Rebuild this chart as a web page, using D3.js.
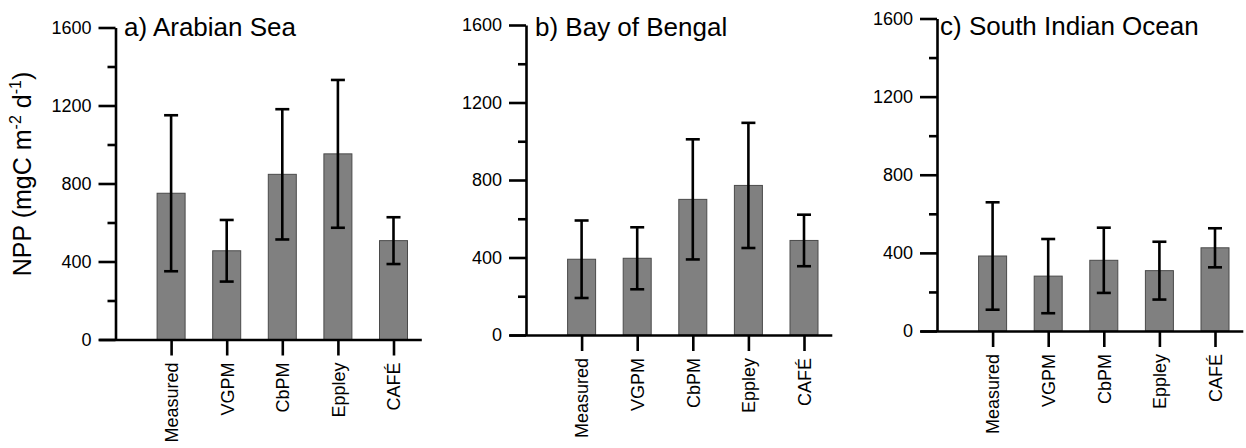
<!DOCTYPE html>
<html>
<head>
<meta charset="utf-8">
<script src="https://cdn.jsdelivr.net/npm/d3@7"></script>
<style>
  html, body { margin: 0; padding: 0; background: #fff; }
  svg { display: block; font-family: "Liberation Sans", Arial, sans-serif; }
</style>
</head>
<body>
<svg id="chart" width="1246" height="448"></svg>
<script>
const categories = ["Measured", "VGPM", "CbPM", "Eppley", "CAFÉ"];
const yTickLabels = [0, 400, 800, 1200, 1600];
const yMinorTicks = [200, 600, 1000, 1400];

const arabianMean = [750, 455, 847, 952, 507];
const arabianSD   = [400, 158, 334, 379, 120];
const bengalMean  = [391, 396, 700, 772, 488];
const bengalSD    = [200, 160, 310, 323, 133];
const southMean   = [384, 281, 362, 309, 426];
const southSD     = [275, 190, 167, 148, 100];

const panelTitles = ["a) Arabian Sea", "b) Bay of Bengal", "c) South Indian Ocean"];

const panels = [
  { title: panelTitles[0], mean: arabianMean, sd: arabianSD, ax: 115.5, y0: 339.5, y1: 27.5, tdx: 8.5, tby: 36 },
  { title: panelTitles[1], mean: bengalMean,  sd: bengalSD,  ax: 526,   y0: 335,   y1: 25,   tdx: 9,   tby: 36 },
  { title: panelTitles[2], mean: southMean,   sd: southSD,   ax: 937,   y0: 331,   y1: 18.5, tdx: 3,   tby: 35 }
];

const svg = d3.select("#chart");
const step = 55.6;
const barW = 28;
const capW = 14;
const lw = 2.6;
const FONT = '"Liberation Sans", Arial, sans-serif';

panels.forEach(p => {
  const g = svg.append("g");
  const y = d3.scaleLinear().domain([0, 1600]).range([p.y0, p.y1]);
  const x = d3.scaleLinear().domain([0, 5.5]).range([p.ax, p.ax + 5.5 * step]);
  const xa = d3.scaleLinear().domain([-0.3, 5.5]).range([x(-0.3), x(5.5)]);

  g.selectAll("rect.bar").data(p.mean).join("rect")
    .attr("class", "bar")
    .attr("x", (d, i) => x(i + 1) - barW / 2)
    .attr("width", barW)
    .attr("y", d => y(d))
    .attr("height", d => y(0) - y(d))
    .attr("fill", "#808080")
    .attr("stroke", "#4a4a4a")
    .attr("stroke-width", 1);

  const eb = g.selectAll("g.err").data(p.mean).join("g").attr("class", "err")
    .attr("stroke", "#000").attr("stroke-width", lw).attr("fill", "none");
  eb.append("line")
    .attr("x1", (d, i) => x(i + 1)).attr("x2", (d, i) => x(i + 1))
    .attr("y1", (d, i) => y(d - p.sd[i])).attr("y2", (d, i) => y(d + p.sd[i]));
  eb.append("line")
    .attr("x1", (d, i) => x(i + 1) - capW / 2).attr("x2", (d, i) => x(i + 1) + capW / 2)
    .attr("y1", (d, i) => y(d + p.sd[i])).attr("y2", (d, i) => y(d + p.sd[i]));
  eb.append("line")
    .attr("x1", (d, i) => x(i + 1) - capW / 2).attr("x2", (d, i) => x(i + 1) + capW / 2)
    .attr("y1", (d, i) => y(d - p.sd[i])).attr("y2", (d, i) => y(d - p.sd[i]));

  const yAx = g.append("g").attr("transform", `translate(${p.ax},0)`)
    .call(d3.axisLeft(y).tickValues(yTickLabels).tickSize(17).tickSizeOuter(0).tickPadding(7).tickFormat(d3.format("d")));
  const yMin = g.append("g").attr("transform", `translate(${p.ax},0)`)
    .call(d3.axisLeft(y).tickValues(yMinorTicks).tickSize(8).tickSizeOuter(0).tickFormat(""));
  yMin.select(".domain").remove();

  const xAx = g.append("g").attr("transform", `translate(0,${p.y0})`)
    .call(d3.axisBottom(xa).tickValues([1, 2, 3, 4, 5]).tickSize(16).tickSizeOuter(0).tickFormat(d => categories[d - 1]));

  [yAx, yMin, xAx].forEach(a => {
    a.attr("font-size", null).attr("font-family", null);
    a.selectAll("path, line").attr("stroke", "#000").attr("stroke-width", lw);
    a.selectAll("text").attr("fill", "#000").attr("font-size", 18).attr("font-family", FONT);
  });

  xAx.selectAll("text")
    .attr("text-anchor", "end")
    .attr("transform", "translate(0,23) rotate(-90)")
    .attr("x", 0).attr("y", 0).attr("dy", "0.35em");

  g.append("text")
    .attr("x", p.ax + p.tdx).attr("y", p.tby)
    .attr("font-size", 26).attr("font-family", FONT).attr("fill", "#000")
    .text(p.title);
});

const yl = svg.append("text")
  .attr("transform", "translate(22,174) rotate(-90)")
  .attr("text-anchor", "middle").attr("dy", "0.35em")
  .attr("font-size", 25).attr("font-family", FONT).attr("fill", "#000");
yl.append("tspan").text("NPP (mgC m");
yl.append("tspan").attr("font-size", 16).attr("dy", -10).text("-2");
yl.append("tspan").attr("dy", 10).text(" d");
yl.append("tspan").attr("font-size", 16).attr("dy", -10).text("-1");
yl.append("tspan").attr("dy", 10).text(")");
</script>
</body>
</html>
